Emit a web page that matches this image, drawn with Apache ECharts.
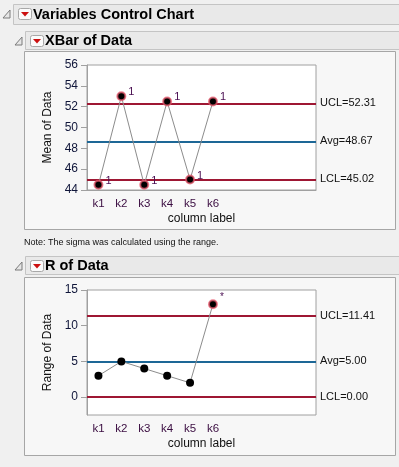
<!DOCTYPE html>
<html>
<head>
<meta charset="utf-8">
<script src="https://cdn.jsdelivr.net/npm/echarts@6/dist/echarts.min.js"></script>
<style>
body {
  margin: 0;
  background: #f0f0f0;
}
#chart {
  width: 399px;
  height: 467px;
}
</style>
</head>
<body>
<div id="chart"></div>
<script>
// categories: 6 subgroups, axis has room for 10 slots like JMP
const categories = ['k1', 'k2', 'k3', 'k4', 'k5', 'k6']
const emptySlots = 4
const meanValues = [44.5, 53.0, 44.5, 52.5, 45.0, 52.5]
const meanFlags = ['1', '1', '1', '1', '1', '1']
const rangeValues = [3, 5, 4, 3, 2, 13]
const rangeFlags = ['', '', '', '', '', '*']
const limitNames = ['UCL', 'Avg', 'LCL']
const meanLimits = [52.31, 48.67, 45.02]
const rangeLimits = [11.41, 5.00, 0.00]
const meanTicks = [44, 46, 48, 50, 52, 54, 56]
const rangeTicks = [0, 5, 10, 15]

const font = "'Liberation Sans', Arial, sans-serif"
const red = '#9e1733'
const blue = '#1d6796'
const slots = categories.concat(new Array(emptySlots).fill(''))

const chart = echarts.init(document.getElementById('chart'))

function limitLines(values) {
  return values.map((v, i) => ({
    yAxis: v,
    lineStyle: {color: i === 1 ? blue : red, width: 2, type: 'solid'},
    label: {
      show: true,
      position: 'end',
      distance: 4,
      formatter: limitNames[i] + '=' + v.toFixed(2),
      color: '#111',
      fontFamily: font,
      fontSize: 11
    }
  }))
}

function points(values, flags) {
  return values.map((v, i) => {
    const flagged = flags[i] !== ''
    return {
      value: v,
      itemStyle: flagged
        ? {color: '#000', borderColor: 'rgba(232,90,110,0.75)', borderWidth: 2}
        : {color: '#000', borderWidth: 0},
      label: {
        show: flagged,
        formatter: flags[i],
        position: 'right',
        distance: 2,
        offset: [0, flags[i] === '*' ? -7 : -4],
        color: '#4a0f52',
        fontFamily: font,
        fontSize: flags[i] === '*' ? 10 : 11
      }
    }
  })
}

function xAxis(idx) {
  return {
    type: 'category',
    gridIndex: idx,
    data: slots,
    name: 'column label',
    nameLocation: 'middle',
    nameGap: 23,
    nameTextStyle: {color: '#111', fontFamily: font, fontSize: 12},
    axisLine: {lineStyle: {color: '#a0a0a0'}},
    axisTick: {
      alignWithLabel: true,
      length: 5,
      interval: (i, v) => v !== '',
      lineStyle: {color: '#a0a0a0'}
    },
    axisLabel: {interval: 0, margin: 8, color: '#3a0c40', fontFamily: font, fontSize: 11.5}
  }
}

function yAxis(idx, name, min, max, ticks) {
  return {
    type: 'value',
    gridIndex: idx,
    min: min,
    max: max,
    name: name,
    nameLocation: 'middle',
    nameGap: 33,
    nameTextStyle: {color: '#111', fontFamily: font, fontSize: 12},
    splitLine: {show: false},
    axisLine: {show: true, lineStyle: {color: '#a0a0a0'}},
    axisTick: {show: true, length: 6, customValues: ticks, lineStyle: {color: '#a0a0a0'}},
    axisLabel: {customValues: ticks, margin: 9, color: '#10163a', fontFamily: font, fontSize: 12}
  }
}

function header(x, y, label, level) {
  // disclosure triangle + red menu button + bold title, JMP outline style
  const bx = level === 0 ? 18 : 30
  const tx = level === 0 ? 3 : 15
  return [
    {
      type: 'rect', z: -8,
      shape: {x: x + 0.5, y: y + 0.5, width: 399 - x, height: level === 0 ? 20 : 18},
      style: {fill: '#e9e9e9', stroke: '#c4c4c4', lineWidth: 1}
    },
    {
      type: 'polygon', z: -7,
      shape: {points: [[tx + 7, y + 6], [tx + 7, y + 14], [tx, y + 14]]},
      style: {fill: '#e6e6e6', stroke: '#7a7a7a', lineWidth: 1}
    },
    {
      type: 'rect', z: -7,
      shape: {x: bx + 0.5, y: y + 4.5, width: 13, height: 11, r: 2},
      style: {fill: '#fbfbfb', stroke: '#a8a8a8', lineWidth: 1}
    },
    {
      type: 'polygon', z: -6,
      shape: {points: [[bx + 3, y + 8], [bx + 11, y + 8], [bx + 7, y + 12.5]]},
      style: {fill: '#cc1010'}
    },
    {
      type: 'text', z: -6,
      style: {
        text: label, x: bx + 15, y: y + (level === 0 ? 10.5 : 9.5),
        verticalAlign: 'middle',
        font: 'bold 14.5px ' + font,
        fill: '#000'
      }
    }
  ]
}

const option = {
  animation: false,
  graphic: [
    {type: 'rect', z: -10, shape: {x: 0, y: 0, width: 399, height: 467}, style: {fill: '#f0f0f0'}},
    {type: 'rect', z: -9, shape: {x: 24.5, y: 51.5, width: 371, height: 178}, style: {fill: '#f7f7f7', stroke: '#a6a6a6'}},
    {type: 'rect', z: -9, shape: {x: 24.5, y: 277.5, width: 371, height: 178}, style: {fill: '#f7f7f7', stroke: '#a6a6a6'}},
    ...header(13, 4, 'Variables Control Chart', 0),
    ...header(25, 31, 'XBar of Data', 1),
    ...header(25, 256, 'R of Data', 1),
    {
      type: 'text', z: -6,
      style: {
        text: 'Note: The sigma was calculated using the range.',
        x: 24, y: 243, verticalAlign: 'middle',
        font: '9px ' + font, fill: '#111'
      }
    }
  ],
  grid: [
    {left: 87, top: 65, width: 229, height: 125, show: true, backgroundColor: '#fff', borderColor: '#a0a0a0', borderWidth: 1},
    {left: 87, top: 290, width: 229, height: 125, show: true, backgroundColor: '#fff', borderColor: '#a0a0a0', borderWidth: 1}
  ],
  xAxis: [xAxis(0), xAxis(1)],
  yAxis: [
    yAxis(0, 'Mean of Data', 44, 56, meanTicks),
    yAxis(1, 'Range of Data', -2.5, 15, rangeTicks)
  ],
  series: [
    {
      type: 'line',
      xAxisIndex: 0,
      yAxisIndex: 0,
      data: points(meanValues, meanFlags),
      symbol: 'circle',
      symbolSize: 8,
      z: 5,
      lineStyle: {color: '#8c8c8c', width: 1},
      markLine: {silent: true, symbol: 'none', data: limitLines(meanLimits)}
    },
    {
      type: 'line',
      xAxisIndex: 1,
      yAxisIndex: 1,
      data: points(rangeValues, rangeFlags),
      symbol: 'circle',
      symbolSize: 8,
      z: 5,
      lineStyle: {color: '#8c8c8c', width: 1},
      markLine: {silent: true, symbol: 'none', data: limitLines(rangeLimits)}
    }
  ]
}

chart.setOption(option)
</script>
</body>
</html>
